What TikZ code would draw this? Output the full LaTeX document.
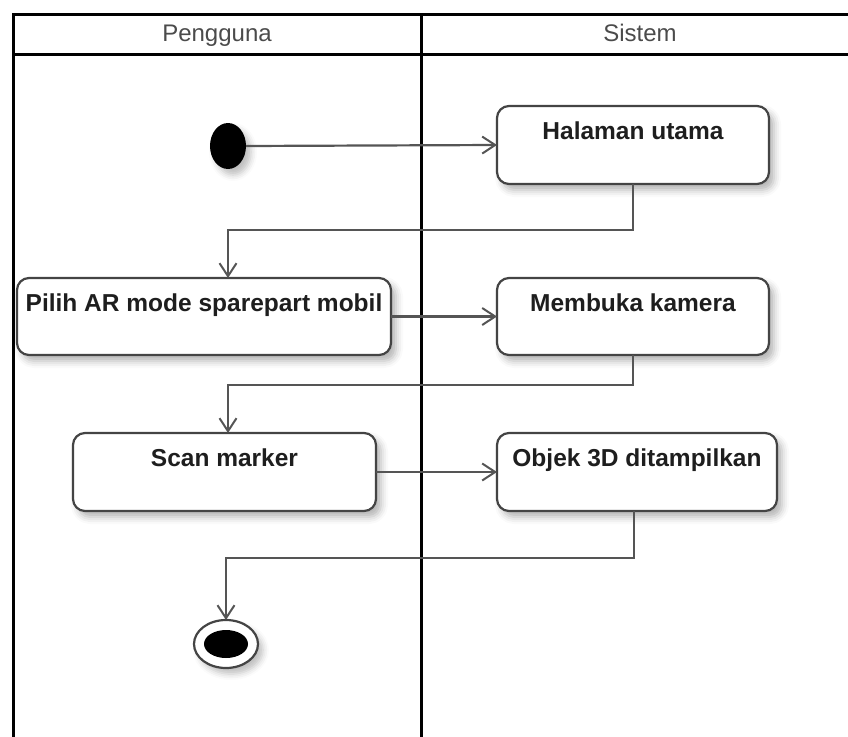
\documentclass[tikz,border=0pt]{standalone}
\usepackage{fontspec}
\setmainfont{Liberation Sans}
\usetikzlibrary{arrows.meta,shapes.geometric,shadows.blur}

\definecolor{edge}{HTML}{444444}
\definecolor{wire}{HTML}{555555}
\definecolor{ink}{HTML}{1E1E1E}

\tikzset{
  lane/.style={line width=3pt, black, line cap=rect},
  lanehead/.style={anchor=base, inner sep=0pt, font=\fontsize{24}{28}\selectfont, text=ink!80},
  act/.style={draw=edge, line width=2.2pt, fill=white, rounded corners=12pt,
    inner sep=0pt, outer sep=0pt,
    blur shadow={shadow xshift=5pt, shadow yshift=-6pt, shadow blur radius=7pt, shadow opacity=30}},
  acttext/.style={anchor=base, inner sep=0pt, text=ink,
    font=\bfseries\fontsize{24.5}{28}\selectfont},
  flow/.style={draw=wire, line width=2.2pt,
    -{Straight Barb[length=13pt, width=17pt, line width=2pt]}},
  initial/.style={ellipse, fill=black, inner sep=0pt, outer sep=0pt,
    minimum width=36pt, minimum height=46pt,
    blur shadow={shadow xshift=5pt, shadow yshift=-6pt, shadow blur radius=6pt, shadow opacity=25}},
  finalring/.style={ellipse, draw=edge, line width=2.2pt, fill=white, inner sep=0pt, outer sep=0pt,
    minimum width=64pt, minimum height=48pt,
    blur shadow={shadow xshift=5pt, shadow yshift=-6pt, shadow blur radius=6pt, shadow opacity=25}},
  finaldot/.style={ellipse, fill=black, inner sep=0pt, minimum width=44pt, minimum height=28pt},
}

\begin{document}
\begin{tikzpicture}[x=1pt, y=-1pt]
  \useasboundingbox (0,0) rectangle (848,736);

  % swimlane frame
  \coordinate (tl) at (13,14);
  \coordinate (tr) at (848,14);
  \coordinate (hl) at (13,54);
  \coordinate (hr) at (848,54);
  \coordinate (bl) at (13,736);
  \coordinate (dt) at (421,14);
  \coordinate (db) at (421,736);
  \draw[lane] (bl) -- (tl) -- (tr);
  \draw[lane] (hl) -- (hr);
  \draw[lane] (dt) -- (db);
  \node[lanehead] (userlane) at (217,41) {Pengguna};
  \node[lanehead] (syslane) at (640,41) {Sistem};

  % activities (label sits near the top edge of each box)
  \node[act, minimum width=272pt, minimum height=78pt] (H) at (633,145) {};
  \node[acttext] (Ht) at ([yshift=-33pt]H.north) {Halaman utama};

  \node[act, minimum width=374pt, minimum height=77pt] (P) at (204,316.5) {};
  \node[acttext] (Pt) at ([yshift=-33pt]P.north) {Pilih AR mode sparepart mobil};

  \node[act, minimum width=272pt, minimum height=77pt] (M) at (633,316.5) {};
  \node[acttext] (Mt) at ([yshift=-33pt]M.north) {Membuka kamera};

  \node[act, minimum width=303pt, minimum height=78pt] (S) at (224.5,472) {};
  \node[acttext] (St) at ([yshift=-33pt]S.north) {Scan marker};

  \node[act, minimum width=280pt, minimum height=78pt] (O) at (637,472) {};
  \node[acttext] (Ot) at ([yshift=-33pt]O.north) {Objek 3D ditampilkan};

  % initial and final states
  \node[initial] (st) at (228,146) {};
  \node[finalring] (fin) at (226,644) {};
  \node[finaldot] (findot) at (fin.center) {};

  % control flow
  \draw[flow] (st.east) -- (H.west);
  \draw[flow] (H.south) -- ++(0,46) -| (P.north -| st.center);
  \draw[flow] (P.east) -- (M.west);
  \draw[flow] (M.south) -- ++(0,30) -| (S.north -| st.center);
  \draw[flow] (S.east) -- (O.west);
  \draw[flow] ([xshift=-3pt]O.south) -- ++(0,47) -| (fin.north);
\end{tikzpicture}
\end{document}
